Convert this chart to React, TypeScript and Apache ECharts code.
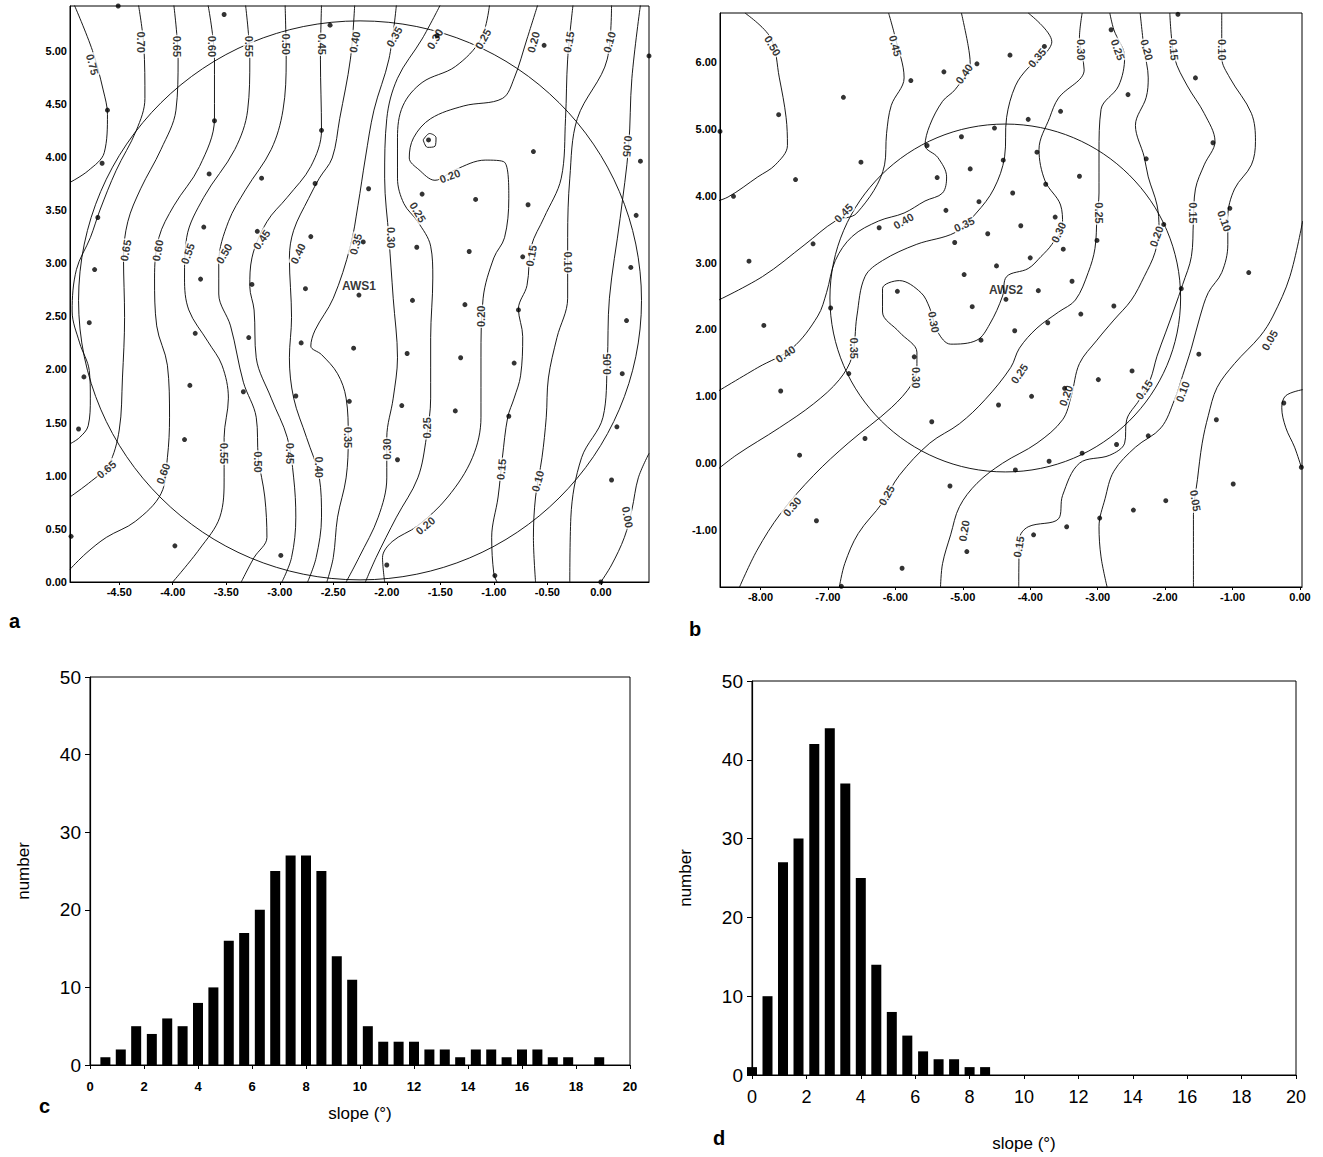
import React, { useEffect, useRef } from "react";
import * as echarts from "echarts";

const FONT = '"Liberation Sans", Arial, Helvetica, sans-serif';

// ---------- axis ticks ----------
const aTicksX = [-4.5, -4, -3.5, -3, -2.5, -2, -1.5, -1, -0.5, 0];
const aTicksY = [0, 0.5, 1, 1.5, 2, 2.5, 3, 3.5, 4, 4.5, 5];
const bTicksX = [-8, -7, -6, -5, -4, -3, -2, -1, 0];
const bTicksY = [-1, 0, 1, 2, 3, 4, 5, 6];

// ---------- panel a (AWS1) ----------
const stationA = { name: "AWS1", x: -2.26, y: 2.7 };
const circleA = [-2.25, 2.65, 2.63];
const stakesA: [number, number][] = [
  [-4.51, 5.42], [-3.52, 5.34], [-2.53, 5.24], [-1.53, 5.14], [-0.53, 5.05], [0.45, 4.95],
  [-4.61, 4.44], [-3.61, 4.34], [-2.61, 4.25], [-1.61, 4.16], [-0.63, 4.05], [0.37, 3.96],
  [-4.66, 3.94], [-3.66, 3.84], [-3.17, 3.8], [-2.67, 3.75], [-2.17, 3.7], [-1.67, 3.65], [-1.17, 3.6], [-0.68, 3.55], [0.33, 3.45],
  [-4.7, 3.43], [-3.71, 3.34], [-3.21, 3.3], [-2.71, 3.25], [-2.22, 3.2], [-1.72, 3.15], [-1.23, 3.11], [-0.73, 3.06], [0.28, 2.96],
  [-4.73, 2.94], [-3.74, 2.85], [-3.26, 2.8], [-2.76, 2.76], [-2.26, 2.7], [-1.76, 2.65], [-1.27, 2.61], [-0.77, 2.56], [0.24, 2.46],
  [-4.78, 2.44], [-3.79, 2.34], [-3.29, 2.3], [-2.8, 2.25], [-2.31, 2.2], [-1.81, 2.15], [-1.31, 2.11], [-0.81, 2.06], [0.2, 1.96],
  [-4.83, 1.93], [-3.84, 1.85], [-3.34, 1.79], [-2.85, 1.75], [-2.35, 1.7], [-1.86, 1.66], [-1.36, 1.61], [-0.86, 1.56], [0.15, 1.46],
  [-4.88, 1.44], [-3.89, 1.34], [-1.9, 1.15], [0.1, 0.96],
  [-4.95, 0.43], [-3.98, 0.34], [-2.99, 0.25], [-2.0, 0.16], [-0.99, 0.06], [0.0, 0.0],
];
const contoursA: [number, [number, number][]][] = [
  [0.75, [[-4.92, 5.43], [-4.75, 5.0], [-4.65, 4.63], [-4.61, 4.4], [-4.64, 4.04], [-4.79, 3.87], [-4.96, 3.76]]],
  [0.7, [[-4.32, 5.43], [-4.27, 5.04], [-4.26, 4.55], [-4.34, 4.25], [-4.53, 3.87], [-4.68, 3.5], [-4.77, 3.24], [-4.9, 2.94], [-4.94, 2.55], [-4.87, 2.25], [-4.78, 1.99], [-4.77, 1.73], [-4.79, 1.47], [-4.87, 1.36], [-4.96, 1.3]]],
  [0.65, [[-3.99, 5.43], [-3.95, 4.92], [-3.97, 4.44], [-4.11, 4.07], [-4.3, 3.7], [-4.42, 3.39], [-4.46, 3.05], [-4.45, 2.49], [-4.47, 1.92], [-4.5, 1.43], [-4.6, 1.1], [-4.76, 0.95], [-4.96, 0.8]]],
  [0.6, [[-3.67, 5.43], [-3.61, 4.92], [-3.61, 4.36], [-3.75, 3.91], [-3.99, 3.54], [-4.13, 3.24], [-4.17, 2.86], [-4.15, 2.41], [-4.05, 2.04], [-4.03, 1.55], [-4.05, 1.17], [-4.11, 0.83], [-4.35, 0.57], [-4.62, 0.42], [-4.81, 0.27], [-4.96, 0.12]]],
  [0.55, [[-3.32, 5.43], [-3.28, 4.92], [-3.3, 4.44], [-3.42, 4.07], [-3.71, 3.62], [-3.87, 3.24], [-3.89, 2.86], [-3.85, 2.56], [-3.67, 2.26], [-3.54, 2.04], [-3.48, 1.73], [-3.52, 1.36], [-3.52, 0.98], [-3.56, 0.61], [-3.75, 0.31], [-4.0, 0]]],
  [0.5, [[-2.95, 5.43], [-2.94, 4.92], [-2.97, 4.44], [-3.08, 4.07], [-3.32, 3.69], [-3.48, 3.39], [-3.57, 3.01], [-3.57, 2.71], [-3.46, 2.41], [-3.34, 1.88], [-3.22, 1.55], [-3.2, 1.17], [-3.14, 0.8], [-3.12, 0.42], [-3.24, 0.23], [-3.36, 0]]],
  [0.45, [[-2.61, 5.43], [-2.62, 4.92], [-2.61, 4.25], [-2.71, 3.91], [-2.93, 3.62], [-3.12, 3.39], [-3.26, 3.05], [-3.28, 2.78], [-3.24, 2.56], [-3.22, 2.11], [-3.08, 1.73], [-2.93, 1.36], [-2.87, 0.98], [-2.85, 0.61], [-2.89, 0.23], [-2.98, 0]]],
  [0.4, [[-2.3, 5.43], [-2.34, 4.92], [-2.44, 4.36], [-2.51, 3.99], [-2.63, 3.8], [-2.73, 3.61], [-2.87, 3.31], [-2.91, 3.05], [-2.89, 2.49], [-2.91, 2.11], [-2.87, 1.73], [-2.75, 1.36], [-2.63, 0.98], [-2.61, 0.61], [-2.66, 0.23], [-2.74, 0]]],
  [0.35, [[-1.91, 5.43], [-1.98, 4.92], [-2.12, 4.44], [-2.2, 3.99], [-2.27, 3.54], [-2.34, 3.16], [-2.5, 2.67], [-2.67, 2.37], [-2.71, 2.22], [-2.61, 2.14], [-2.46, 1.96], [-2.38, 1.73], [-2.36, 1.36], [-2.38, 0.98], [-2.46, 0.61], [-2.5, 0.23], [-2.56, 0]]],
  [0.3, [[-1.5, 5.43], [-1.67, 5.11], [-1.9, 4.74], [-2.0, 4.36], [-2.02, 3.8], [-1.98, 3.24], [-1.94, 2.67], [-1.9, 2.11], [-1.94, 1.73], [-2.0, 1.36], [-2.0, 0.98], [-2.08, 0.61], [-2.26, 0.23], [-2.38, 0]]],
  [0.25, [[-1.04, 5.43], [-1.12, 5.11], [-1.36, 4.85], [-1.67, 4.7], [-1.85, 4.48], [-1.9, 4.18], [-1.9, 3.8], [-1.84, 3.56], [-1.71, 3.39], [-1.59, 3.16], [-1.57, 2.86], [-1.59, 2.3], [-1.59, 1.73], [-1.63, 1.36], [-1.71, 0.98], [-1.91, 0.61], [-2.1, 0.23], [-2.2, 0]]],
  [0.2, [[-0.59, 5.43], [-0.69, 5.11], [-0.81, 4.74], [-0.92, 4.55], [-1.28, 4.48], [-1.59, 4.36], [-1.75, 4.18], [-1.79, 3.99], [-1.7, 3.88], [-1.55, 3.78], [-1.36, 3.88], [-1.08, 3.97], [-0.9, 3.95], [-0.86, 3.61], [-0.9, 3.24], [-1.0, 3.05], [-1.1, 2.67], [-1.12, 2.11], [-1.12, 1.55], [-1.2, 1.17], [-1.43, 0.8], [-1.71, 0.53], [-1.95, 0.38], [-2.04, 0.23], [-2.02, 0]]],
  [0.2, [[-1.66, 4.16], [-1.6, 4.22], [-1.54, 4.18], [-1.55, 4.1], [-1.62, 4.09], [-1.66, 4.16]]],
  [0.15, [[-0.26, 5.43], [-0.31, 4.92], [-0.33, 4.36], [-0.37, 3.8], [-0.53, 3.43], [-0.65, 3.16], [-0.69, 2.79], [-0.77, 2.57], [-0.73, 2.31], [-0.75, 1.94], [-0.81, 1.73], [-0.87, 1.55], [-0.92, 1.17], [-0.96, 0.8], [-1.02, 0.42], [-1.0, 0.08], [-0.97, 0]]],
  [0.1, [[0.1, 5.43], [0.06, 4.92], [-0.22, 4.36], [-0.29, 3.8], [-0.31, 3.24], [-0.31, 2.67], [-0.41, 2.3], [-0.49, 1.92], [-0.51, 1.55], [-0.55, 1.17], [-0.61, 0.8], [-0.63, 0.42], [-0.61, 0]]],
  [0.05, [[0.37, 5.43], [0.29, 4.74], [0.26, 4.1], [0.18, 3.42], [0.08, 2.67], [0.06, 2.06], [0.02, 1.55], [-0.18, 1.17], [-0.28, 0.61], [-0.29, 0]]],
  [0.0, [[0.45, 1.21], [0.35, 0.98], [0.29, 0.68], [0.22, 0.42], [0.1, 0.16], [0.0, 0]]],
];
// label: x, y, level, rotation
const labelsA: [number, number, number, number][] = [
  [-4.75, 4.87, 0.75, -75], [-4.3, 5.08, 0.7, -90], [-3.96, 5.04, 0.65, -90], [-3.63, 5.04, 0.6, -90],
  [-3.29, 5.04, 0.55, -90], [-2.94, 5.06, 0.5, -90], [-2.61, 5.06, 0.45, -90], [-2.3, 5.08, 0.4, 80],
  [-1.93, 5.13, 0.35, 60], [-1.55, 5.11, 0.3, 60], [-1.1, 5.11, 0.25, 60], [-0.63, 5.08, 0.2, 75],
  [-0.3, 5.08, 0.15, 80], [0.08, 5.08, 0.1, 75],
  [-4.44, 3.12, 0.65, 80], [-4.14, 3.12, 0.6, 80], [-3.86, 3.09, 0.55, 70], [-3.52, 3.09, 0.5, 60],
  [-3.17, 3.22, 0.45, 55], [-2.83, 3.09, 0.4, 65], [-2.29, 3.18, 0.35, 75], [-1.96, 3.24, 0.3, -90],
  [-1.71, 3.48, 0.25, -60], [-1.41, 3.82, 0.2, 20], [-1.12, 2.5, 0.2, 90], [-0.65, 3.07, 0.15, 80],
  [-0.31, 3.01, 0.1, -90], [0.25, 4.1, 0.05, -95], [0.06, 2.05, 0.05, 90],
  [-4.62, 1.06, 0.65, 40], [-4.09, 1.02, 0.6, 70], [-3.52, 1.21, 0.55, -90], [-3.2, 1.13, 0.5, -90],
  [-2.9, 1.21, 0.45, -90], [-2.63, 1.08, 0.4, -90], [-2.36, 1.36, 0.35, -90], [-2.0, 1.25, 0.3, 90],
  [-1.62, 1.45, 0.25, 90], [-1.64, 0.53, 0.2, 40], [-0.93, 1.06, 0.15, 85], [-0.59, 0.95, 0.1, 75],
  [0.25, 0.61, 0.0, -80],
];

// ---------- panel b (AWS2) ----------
const stationB = { name: "AWS2", x: -4.36, y: 2.45 };
const circleB = [-4.37, 2.47, 2.6];
const stakesB: [number, number][] = [
  [-1.81, 6.71], [-2.8, 6.48], [-3.79, 6.23], [-4.79, 5.97], [-1.55, 5.76], [-4.3, 6.1], [-5.28, 5.85],
  [-5.77, 5.72], [-2.55, 5.51], [-3.55, 5.26], [-4.03, 5.14], [-6.77, 5.47], [-7.73, 5.21], [-8.6, 4.96],
  [-4.53, 5.01], [-5.02, 4.88], [-5.53, 4.75], [-1.29, 4.79], [-2.28, 4.55], [-3.9, 4.65], [-4.4, 4.53],
  [-6.51, 4.5], [-4.89, 4.4], [-5.38, 4.27], [-7.48, 4.24], [-3.27, 4.29], [-3.77, 4.17], [-4.26, 4.04],
  [-8.4, 3.99], [-4.76, 3.91], [-1.04, 3.81], [-5.25, 3.78], [-6.24, 3.52], [-3.63, 3.68], [-4.14, 3.55],
  [-4.63, 3.43], [-5.12, 3.3], [-2.02, 3.57], [-7.22, 3.28], [-3.01, 3.33], [-3.51, 3.2], [-8.17, 3.02],
  [-4.0, 3.07], [-4.5, 2.95], [-4.98, 2.82], [-0.76, 2.85], [-3.38, 2.72], [-3.88, 2.58], [-4.36, 2.45],
  [-5.97, 2.57], [-4.86, 2.34], [-1.76, 2.61], [-2.76, 2.35], [-3.25, 2.23], [-3.74, 2.1], [-4.23, 1.98],
  [-6.96, 2.32], [-7.95, 2.06], [-4.73, 1.84], [-5.72, 1.59], [-1.5, 1.63], [-2.49, 1.38], [-2.99, 1.25],
  [-3.49, 1.12], [-6.69, 1.34], [-7.7, 1.08], [-3.98, 1.0], [-4.47, 0.87], [-0.24, 0.9], [-1.24, 0.65],
  [-5.46, 0.62], [-2.25, 0.41], [-2.72, 0.28], [-6.45, 0.37], [-3.23, 0.15], [-3.72, 0.03], [-7.42, 0.12],
  [-4.22, -0.1], [0.02, -0.06], [-0.99, -0.31], [-5.19, -0.34], [-1.99, -0.56], [-2.47, -0.7], [-2.97, -0.82],
  [-3.46, -0.95], [-7.17, -0.86], [-3.95, -1.07], [-4.94, -1.32], [-5.9, -1.57], [-6.8, -1.84],
];
const contoursB: [number, [number, number][]][] = [
  [0.5, [[-8.23, 6.73], [-7.85, 6.36], [-7.72, 5.76], [-7.62, 5.17], [-7.6, 4.75], [-7.78, 4.46], [-8.04, 4.28], [-8.48, 3.98], [-8.74, 3.89]]],
  [0.45, [[-6.1, 6.73], [-6.0, 6.36], [-5.87, 5.76], [-6.06, 5.35], [-6.13, 4.93], [-6.16, 4.46], [-6.57, 3.74], [-6.89, 3.62], [-7.34, 3.27], [-7.97, 2.79], [-8.74, 2.38]]],
  [0.4, [[-5.02, 6.73], [-4.92, 6.24], [-4.89, 5.97], [-5.11, 5.59], [-5.3, 5.41], [-5.49, 5.05], [-5.56, 4.75], [-5.37, 4.57], [-5.24, 4.28], [-5.3, 4.04], [-5.56, 3.92], [-5.87, 3.74], [-6.25, 3.62], [-6.64, 3.39], [-6.89, 3.03], [-7.02, 2.55], [-7.15, 2.2], [-7.53, 1.72], [-8.04, 1.43], [-8.74, 1.01]]],
  [0.35, [[-4.03, 6.73], [-3.68, 6.3], [-3.78, 6.12], [-4.03, 5.91], [-4.22, 5.64], [-4.35, 5.17], [-4.38, 4.58], [-4.54, 4.1], [-4.8, 3.74], [-5.11, 3.45], [-5.69, 3.27], [-6.19, 3.03], [-6.45, 2.79], [-6.57, 2.2], [-6.64, 1.6], [-6.83, 1.25], [-7.21, 0.89], [-7.72, 0.53], [-8.36, 0.12], [-8.74, -0.18]]],
  [0.3, [[-3.23, 6.73], [-3.27, 6.36], [-3.2, 5.88], [-3.58, 5.46], [-3.71, 5.17], [-3.87, 4.69], [-3.78, 4.22], [-3.55, 3.86], [-3.52, 3.57], [-3.68, 3.27], [-3.84, 3.09], [-4.03, 2.91], [-4.35, 2.79], [-4.41, 2.5], [-4.6, 2.08], [-4.79, 1.84], [-5.18, 1.78], [-5.37, 1.96], [-5.49, 2.32], [-5.62, 2.55], [-5.94, 2.73], [-6.19, 2.61], [-6.19, 2.26], [-5.94, 1.96], [-5.68, 1.66], [-5.68, 1.43], [-5.75, 1.19], [-6.06, 0.83], [-6.7, 0.3], [-7.21, -0.18], [-7.7, -0.75], [-8.05, -1.3], [-8.31, -1.85]]],
  [0.25, [[-2.82, 6.73], [-2.76, 6.48], [-2.6, 6.07], [-2.69, 5.64], [-2.95, 5.29], [-2.98, 4.64], [-2.98, 4.04], [-3.01, 3.68], [-3.04, 3.21], [-3.14, 2.85], [-3.33, 2.44], [-3.58, 2.26], [-3.9, 2.02], [-4.16, 1.72], [-4.29, 1.43], [-4.67, 0.95], [-5.05, 0.59], [-5.49, 0.3], [-5.94, -0.18], [-6.19, -0.59], [-6.55, -1.05], [-6.75, -1.5], [-6.83, -1.85]]],
  [0.2, [[-2.37, 6.73], [-2.31, 6.18], [-2.25, 5.76], [-2.28, 5.47], [-2.44, 5.05], [-2.31, 4.58], [-2.25, 4.28], [-2.12, 3.86], [-2.09, 3.51], [-2.15, 3.15], [-2.31, 2.79], [-2.5, 2.44], [-2.76, 2.14], [-3.01, 1.84], [-3.27, 1.49], [-3.39, 1.01], [-3.52, 0.65], [-3.9, 0.3], [-4.41, 0.0], [-4.79, -0.3], [-5.05, -0.65], [-5.18, -1.07], [-5.3, -1.5], [-5.33, -1.85]]],
  [0.15, [[-1.93, 6.73], [-1.86, 6.06], [-1.67, 5.64], [-1.42, 5.23], [-1.26, 4.81], [-1.42, 4.46], [-1.55, 4.1], [-1.58, 3.62], [-1.61, 3.09], [-1.74, 2.67], [-1.86, 2.32], [-1.99, 1.96], [-2.12, 1.6], [-2.22, 1.25], [-2.38, 0.95], [-2.57, 0.65], [-2.6, 0.3], [-2.82, 0.12], [-3.27, 0.0], [-3.52, -0.48], [-3.58, -0.83], [-4.03, -0.95], [-4.16, -1.13], [-4.17, -1.85]]],
  [0.1, [[-1.16, 6.73], [-1.16, 6.06], [-1.04, 5.76], [-0.72, 5.23], [-0.66, 4.81], [-0.72, 4.46], [-0.97, 4.1], [-1.07, 3.68], [-1.07, 3.27], [-1.16, 2.85], [-1.36, 2.55], [-1.48, 2.2], [-1.61, 1.72], [-1.74, 1.31], [-1.86, 0.95], [-2.06, 0.53], [-2.44, 0.24], [-2.76, -0.12], [-2.89, -0.53], [-2.98, -0.95], [-2.95, -1.4], [-2.86, -1.85]]],
  [0.05, [[0.04, 3.62], [-0.15, 2.79], [-0.4, 2.2], [-0.59, 1.9], [-0.97, 1.49], [-1.23, 1.13], [-1.36, 0.71], [-1.45, 0.3], [-1.52, -0.24], [-1.58, -0.77], [-1.58, -1.85]]],
  [0.0, [[0.04, 1.1], [-0.21, 1.01], [-0.27, 0.83], [-0.21, 0.53], [-0.08, 0.24], [0.02, -0.06]]],
];
const labelsB: [number, number, number, number][] = [
  [-7.82, 6.24, 0.5, -60], [-6.0, 6.24, 0.45, -75], [-4.98, 5.82, 0.4, 55], [-3.9, 6.06, 0.35, 50],
  [-3.25, 6.18, 0.3, -90], [-2.7, 6.18, 0.25, -70], [-2.27, 6.18, 0.2, -75], [-1.87, 6.18, 0.15, -85],
  [-1.16, 6.18, 0.1, -90],
  [-6.77, 3.74, 0.45, 45], [-5.88, 3.62, 0.4, 30], [-4.98, 3.57, 0.35, 25], [-3.58, 3.45, 0.3, 65],
  [-2.98, 3.74, 0.25, -90], [-2.13, 3.39, 0.2, 70], [-1.58, 3.74, 0.15, -90], [-1.12, 3.62, 0.1, -70],
  [-5.43, 2.11, 0.3, -80], [-6.61, 1.72, 0.35, -90], [-7.63, 1.63, 0.4, 35], [-5.7, 1.28, 0.3, -90],
  [-4.16, 1.34, 0.25, 55], [-3.47, 1.01, 0.2, 70], [-2.31, 1.1, 0.15, 55], [-1.74, 1.07, 0.1, 70],
  [-0.45, 1.84, 0.05, 60],
  [-7.53, -0.65, 0.3, 50], [-6.13, -0.48, 0.25, 60], [-4.98, -1.01, 0.2, 80], [-4.17, -1.25, 0.15, 80],
  [-1.55, -0.56, 0.05, -80],
];

// ---------- histograms ----------
const slopeBins = [0, 0.57, 1.14, 1.71, 2.29, 2.86, 3.43, 4.0, 4.57, 5.14, 5.71, 6.29, 6.86, 7.43, 8.0, 8.57, 9.14, 9.71, 10.29, 10.86, 11.43, 12.0, 12.57, 13.14, 13.71, 14.29, 14.86, 15.43, 16.0, 16.57, 17.14, 17.71, 18.29, 18.86];
const countsC = [0, 1, 2, 5, 4, 6, 5, 8, 10, 16, 17, 20, 25, 27, 27, 25, 14, 11, 5, 3, 3, 3, 2, 2, 1, 2, 2, 1, 2, 2, 1, 1, 0, 1];
const countsD = [1, 10, 27, 30, 42, 44, 37, 25, 14, 8, 5, 3, 2, 2, 1, 1];
const histTicksX = [0, 2, 4, 6, 8, 10, 12, 14, 16, 18, 20];

const BLACK = "#000";

function mapAxes(gi: number, xmin: number, xmax: number, ymin: number, ymax: number, tx: number[], ty: number[]) {
  const lab = {
    color: BLACK,
    fontFamily: FONT,
    fontSize: 11,
    fontWeight: "bold" as const,
    formatter: (v: number) => v.toFixed(2),
  };
  return {
    x: {
      gridIndex: gi,
      type: "value",
      min: xmin,
      max: xmax,
      axisLine: { show: true, onZero: false, lineStyle: { color: BLACK, width: 1 } },
      axisTick: { show: true, customValues: tx, length: 3, lineStyle: { color: BLACK } },
      axisLabel: { ...lab, customValues: tx, margin: 4 },
      splitLine: { show: false },
    },
    y: {
      gridIndex: gi,
      type: "value",
      min: ymin,
      max: ymax,
      axisLine: { show: true, onZero: false, lineStyle: { color: BLACK, width: 1 } },
      axisTick: { show: false, customValues: ty },
      axisLabel: { ...lab, customValues: ty, margin: 3 },
      splitLine: { show: false },
    },
  };
}

function mapSeries(
  idx: number,
  contours: [number, [number, number][]][],
  labels: [number, number, number, number][],
  stakes: [number, number][],
  circle: number[],
  station: { name: string; x: number; y: number }
) {
  const s: any[] = [];
  contours.forEach(([lvl, pts]) => {
    s.push({
      type: "line",
      name: "c" + idx + "_" + lvl,
      xAxisIndex: idx,
      yAxisIndex: idx,
      data: pts,
      smooth: 0.35,
      symbol: "none",
      lineStyle: { color: BLACK, width: 0.9 },
      z: 2,
      silent: true,
    });
  });
  s.push({
    type: "custom",
    coordinateSystem: "cartesian2d",
    xAxisIndex: idx,
    yAxisIndex: idx,
    data: [circle],
    renderItem: (_p: any, api: any) => {
      const c = api.coord([api.value(0), api.value(1)]);
      const sz = api.size([api.value(2), api.value(2)]);
      return {
        type: "ellipse",
        shape: { cx: c[0], cy: c[1], rx: sz[0], ry: sz[1] },
        style: { fill: "none", stroke: BLACK, lineWidth: 0.9 },
      };
    },
    z: 2,
    silent: true,
  });
  s.push({
    type: "scatter",
    xAxisIndex: idx,
    yAxisIndex: idx,
    data: labels.map(([x, y, v, r]) => ({ value: [x, y, v], label: { rotate: r } })),
    symbol: "circle",
    symbolSize: 1,
    itemStyle: { color: "rgba(0,0,0,0)" },
    label: {
      show: true,
      position: "inside",
      formatter: (p: any) => Number(p.value[2]).toFixed(2),
      fontFamily: FONT,
      fontSize: 11,
      fontWeight: "bold",
      color: BLACK,
      backgroundColor: "#fff",
      padding: [0, 1],
    },
    z: 3,
    silent: true,
  });
  s.push({
    type: "scatter",
    xAxisIndex: idx,
    yAxisIndex: idx,
    data: stakes,
    symbol: "circle",
    symbolSize: 5,
    itemStyle: { color: BLACK },
    z: 4,
    silent: true,
  });
  s.push({
    type: "scatter",
    xAxisIndex: idx,
    yAxisIndex: idx,
    data: [[station.x, station.y]],
    symbolSize: 1,
    itemStyle: { color: "rgba(0,0,0,0)" },
    label: {
      show: true,
      position: "top",
      distance: 3,
      formatter: station.name,
      fontFamily: FONT,
      fontSize: 12,
      fontWeight: "bold",
      color: BLACK,
    },
    z: 5,
    silent: true,
  });
  return s;
}

function histAxes(gi: number, xFont: number, xBold: boolean, xMargin: number, nameGapX: number) {
  return {
    x: {
      gridIndex: gi,
      type: "value",
      min: 0,
      max: 20,
      interval: 2,
      axisLine: { show: true, onZero: false, lineStyle: { color: BLACK, width: 1.2 } },
      axisTick: { show: true, length: 4, lineStyle: { color: BLACK } },
      axisLabel: { color: BLACK, fontFamily: FONT, fontSize: xFont, fontWeight: xBold ? "bold" : "normal", margin: xMargin, customValues: histTicksX },
      splitLine: { show: false },
      name: "slope (°)",
      nameLocation: "middle",
      nameGap: nameGapX,
      nameTextStyle: { color: BLACK, fontFamily: FONT, fontSize: 17 },
    },
    y: {
      gridIndex: gi,
      type: "value",
      min: 0,
      max: 50,
      interval: 10,
      axisLine: { show: true, onZero: false, lineStyle: { color: BLACK, width: 1.2 } },
      axisTick: { show: true, length: 5, lineStyle: { color: BLACK } },
      axisLabel: { color: BLACK, fontFamily: FONT, fontSize: 19, margin: 9 },
      splitLine: { show: false },
      name: "number",
      nameLocation: "middle",
      nameRotate: 90,
      nameGap: 58,
      nameTextStyle: { color: BLACK, fontFamily: FONT, fontSize: 17 },
    },
  };
}

function histSeries(gi: number, counts: number[]) {
  const data: [number, number][] = [];
  counts.forEach((c, i) => {
    if (c > 0) data.push([slopeBins[i], c]);
  });
  return {
    type: "bar",
    xAxisIndex: gi,
    yAxisIndex: gi,
    data,
    barWidth: 10,
    itemStyle: { color: BLACK },
    silent: true,
  };
}

export default function App() {
  const ref = useRef<HTMLDivElement>(null);
  useEffect(() => {
    if (!ref.current) return;
    const chart = echarts.init(ref.current, undefined, { renderer: "svg" });
    const aAx = mapAxes(0, -4.96, 0.45, 0, 5.42, aTicksX, aTicksY);
    const bAx = mapAxes(1, -8.6, 0.03, -1.85, 6.73, bTicksX, bTicksY);
    const cAx = histAxes(2, 13, true, 15, 40);
    const dAx = histAxes(3, 18, false, 13, 60);
    const gridStyle = { show: true, borderColor: BLACK, borderWidth: 1, backgroundColor: "transparent", containLabel: false };
    const option: any = {
      animation: false,
      backgroundColor: "#fff",
      grid: [
        { ...gridStyle, left: 70, top: 6, width: 579, height: 576 },
        { ...gridStyle, left: 720, top: 13, width: 582, height: 574 },
        { ...gridStyle, left: 90, top: 677, width: 540, height: 388 },
        { ...gridStyle, left: 752, top: 681, width: 544, height: 394 },
      ],
      xAxis: [aAx.x, bAx.x, cAx.x, dAx.x],
      yAxis: [aAx.y, bAx.y, cAx.y, dAx.y],
      series: [
        ...mapSeries(0, contoursA, labelsA, stakesA, circleA, stationA),
        ...mapSeries(1, contoursB, labelsB, stakesB, circleB, stationB),
        histSeries(2, countsC),
        histSeries(3, countsD),
      ],
      graphic: [
        { type: "text", left: 9, top: 611, style: { text: "a", font: `bold 20px ${FONT}`, fill: BLACK } },
        { type: "text", left: 689, top: 619, style: { text: "b", font: `bold 20px ${FONT}`, fill: BLACK } },
        { type: "text", left: 39, top: 1096, style: { text: "c", font: `bold 20px ${FONT}`, fill: BLACK } },
        { type: "text", left: 713, top: 1128, style: { text: "d", font: `bold 20px ${FONT}`, fill: BLACK } },
      ],
    };
    chart.setOption(option);
    return () => chart.dispose();
  }, []);
  return (
    <div
      ref={ref}
      style={{ position: "absolute", left: 0, top: 0, width: 1323, height: 1157, background: "#fff" }}
    />
  );
}
